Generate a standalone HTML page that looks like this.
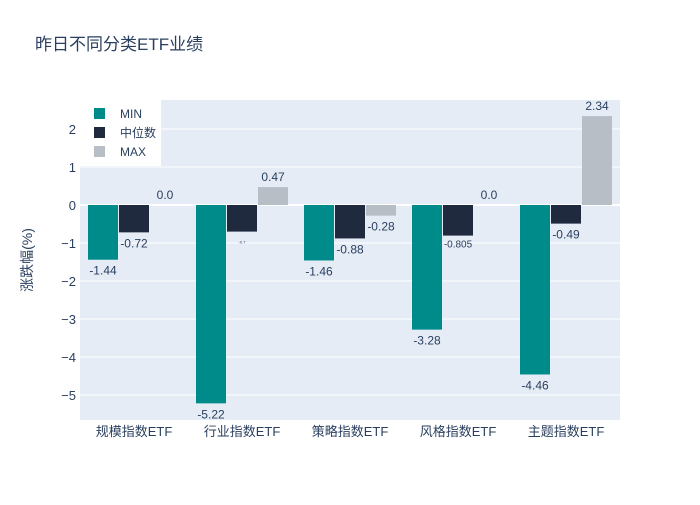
<!DOCTYPE html>
<html><head><meta charset="utf-8"><style>
body{margin:0;background:#fff;font-family:"Liberation Sans","Noto Sans CJK SC",sans-serif}
text{font-family:"Liberation Sans","Noto Sans CJK SC",sans-serif}
</style></head><body>
<svg id="chart" width="700" height="500">
<rect width="700" height="500" fill="#fff"/>
<text x="35" y="50" font-size="17" fill="#2a3f5f">昨日不同分类ETF业绩</text>
<rect x="80" y="100" width="540" height="320" fill="#e5ecf6"/>
<g id="grid"></g><g id="bars"></g><g id="labels"></g>
<text transform="translate(32,260) rotate(-90)" text-anchor="middle" font-size="14" fill="#2a3f5f">涨跌幅(%)</text>
<g id="legend"></g>
</svg>
<script>
const categories=["规模指数ETF","行业指数ETF","策略指数ETF","风格指数ETF","主题指数ETF"];
const minVals=[-1.44,-5.22,-1.46,-3.28,-4.46];
const medVals=[-0.72,-0.7,-0.88,-0.805,-0.49];
const maxVals=[0.0,0.47,-0.28,0.0,2.34];
const minLabels=["-1.44","-5.22","-1.46","-3.28","-4.46"];
const medLabels=["-0.72","-0.7","-0.88","-0.805","-0.49"];
const maxLabels=["0.0","0.47","-0.28","0.0","2.34"];
const yTicks=[-5,-4,-3,-2,-1,0,1,2];
const yTickLabels=["−5","−4","−3","−2","−1","0","1","2"];
const seriesNames=["MIN","中位数","MAX"];
const colors=["#008b8b","#1f2a3f","#b8bec6"];
const NS="http://www.w3.org/2000/svg";
const y=v=>205-v*38;
const x=i=>134+i*108;
function mk(tag,attrs,parent){const e=document.createElementNS(NS,tag);for(const k in attrs)e.setAttribute(k,attrs[k]);parent.appendChild(e);return e;}
const grid=document.getElementById('grid'),bars=document.getElementById('bars'),labels=document.getElementById('labels'),legend=document.getElementById('legend');
yTicks.forEach((t,i)=>{
 const l=mk('line',{x1:80,x2:620,y1:y(t),y2:y(t),stroke:'#fff','stroke-width':t===0?2:1},grid);
 
 
 const tx=mk('text',{x:76,y:y(t)+5,'text-anchor':'end','font-size':13,fill:'#2a3f5f'},grid);
 tx.textContent=yTickLabels[i];
 
 
});
categories.forEach((c,i)=>{
 const tx=mk('text',{x:x(i),y:436,'text-anchor':'middle','font-size':13,fill:'#2a3f5f'},grid);
 tx.textContent=c;
 
 
});
const series=[minVals,medVals,maxVals],slabels=[minLabels,medLabels,maxLabels],offs=[-46,-15,16];
series.forEach((vals,s)=>{
 vals.forEach((v,i)=>{
  const top=Math.min(y(v),y(0)),h=Math.abs(y(v)-y(0));
  const r=mk('rect',{x:x(i)+offs[s],y:top,width:30,height:Math.max(h,0),fill:colors[s]},bars);
  
  
  const small=s===1&&(i===1||i===3);
  const ly=v>0||v===0?y(v)-6:y(v)+(small?12:15);
  const t=mk('text',{x:x(i)+offs[s]+15,y:ly,'text-anchor':'middle','font-size':small?(i===1?4:10):12,fill:'#2a3f5f'},labels);
  t.textContent=slabels[s][i];
  
  
 });
});
mk('rect',{x:80,y:100,width:81,height:66,fill:'#fff'},legend);
seriesNames.forEach((n,i)=>{
 const r=mk('rect',{x:94,y:108+i*19,width:11,height:11,fill:colors[i]},legend);
 
 
 const t=mk('text',{x:120,y:118+i*19,'font-size':12,fill:'#2a3f5f'},legend);
 t.textContent=n;
 
 
});
</script>
</body></html>
